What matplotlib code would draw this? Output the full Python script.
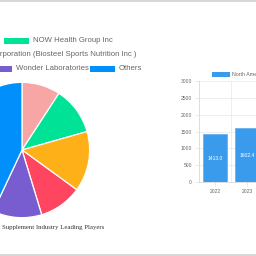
import matplotlib
matplotlib.use('Agg')
import matplotlib.pyplot as plt
from matplotlib.patches import Rectangle

# %% Data:

# Pie: share of leading players (clockwise from 12 o'clock)
players = ['Jamieson Wellness', 'NOW Health Group Inc', 'Nature\'s Bounty',
           'Glanbia', 'Wonder Laboratories', 'Others']
shares = [9.2, 11.4, 14.4, 10.3, 11.7, 43.0]
pie_colors = ['#F8A5A5', '#00E396', '#FEB019', '#FF4560', '#775DD0', '#008FFB']

# Bars: North America market size
years = ['2022', '2023']
values = [1413.0, 1602.4]
bar_color = '#3A9BEC'
y_ticks = [0, 500, 1000, 1500, 2000, 2500, 3000]

W = H = 256


def fx(px):
    return px / W


def fy(py):
    return 1 - py / H


fig = plt.figure(figsize=(2.56, 2.56), dpi=100)
fig.patch.set_facecolor('white')

# %% Pie chart (partly out of frame on the left):

cx, cy, r = 22, 150, 69
ax_pie = fig.add_axes([fx(cx - r), fy(cy + r), 2 * r / W, 2 * r / H])
ax_pie.pie(shares, colors=pie_colors, startangle=90, counterclock=False,
           radius=1.0, wedgeprops=dict(edgecolor='white', linewidth=0.9))
ax_pie.set_xlim(-1.02, 1.02)
ax_pie.set_ylim(-1.02, 1.02)
ax_pie.set_aspect('equal')
ax_pie.axis('off')

fig.text(fx(2), fy(227), 'Supplement Industry Leading Players',
         family='Liberation Serif', fontsize=4.9, color='#333333',
         ha='left', va='center')

# %% Pie legend (hand placed rows):

leg_font = dict(family='Liberation Sans', fontsize=5.6, color='#666666',
                va='center')
box_w, box_h = 25, 6


def legend_item(x, y, color, label):
    fig.patches.append(Rectangle((fx(x), fy(y + box_h / 2)), box_w / W,
                                 box_h / H, transform=fig.transFigure,
                                 facecolor=color, edgecolor='none'))
    fig.text(fx(x + box_w + 4), fy(y), label, ha='left', **leg_font)


legend_item(4, 41, pie_colors[1], players[1])
fig.text(fx(137), fy(54), 'Canopy Growth Corporation (Biosteel Sports Nutrition Inc )',
         ha='right', **leg_font)
legend_item(-13, 69, pie_colors[4], players[4])
legend_item(90, 69, pie_colors[5], players[5])

# %% Bar chart (partly out of frame on the right):

x0, y_base, y_top, cat_w = 199, 182, 81, 32
ax_bar = fig.add_axes([fx(x0), fy(y_base), len(years) * cat_w / W,
                       (y_base - y_top) / H])
pos = range(len(years))
bars = ax_bar.bar(pos, values, width=0.72, color=bar_color,
                  edgecolor='#5AADF0', linewidth=0.5, zorder=3)
for b, v in zip(bars, values):
    ax_bar.text(b.get_x() + b.get_width() / 2, v / 2, f'{v:.1f}',
                ha='center', va='center', color='white', fontsize=3.6,
                family='Liberation Sans', zorder=4)

ax_bar.set_xlim(-0.5, len(years) - 0.5)
ax_bar.set_ylim(0, 3000)
ax_bar.set_yticks(y_ticks)
ax_bar.set_xticks(list(pos))
ax_bar.set_xticklabels(years)
ax_bar.set_xticks([0.5, 1.5], minor=True)
ax_bar.grid(True, axis='y', color='#e8e8e8', linewidth=0.5, zorder=0)
ax_bar.grid(True, axis='x', which='minor', color='#e8e8e8', linewidth=0.5,
            zorder=0)
ax_bar.tick_params(axis='both', which='major', labelsize=3.6,
                   colors='#666666', length=3, width=0.5, color='#e0e0e0',
                   pad=2)
ax_bar.tick_params(axis='x', which='minor', length=0)
for lbl in ax_bar.get_xticklabels() + ax_bar.get_yticklabels():
    lbl.set_family('Liberation Sans')
for side in ['top', 'right']:
    ax_bar.spines[side].set_visible(False)
for side in ['left', 'bottom']:
    ax_bar.spines[side].set_color('#d8d8d8')
    ax_bar.spines[side].set_linewidth(0.6)

# bar legend
fig.patches.append(Rectangle((fx(212), fy(77)), 18 / W, 5 / H,
                             transform=fig.transFigure, facecolor=bar_color,
                             edgecolor='none'))
fig.text(fx(232), fy(74.5), 'North America', ha='left', va='center',
         family='Liberation Sans', fontsize=3.8, color='#666666')

# %% Frame lines of the page section:

fig.add_artist(plt.Line2D([0, 1], [fy(0.5), fy(0.5)], color='#d0d0d0',
                          linewidth=1.2))
fig.add_artist(plt.Line2D([0, 1], [fy(254.5), fy(254.5)], color='#d0d0d0',
                          linewidth=1.2))

fig.savefig('out.png', dpi=100, facecolor='white')
